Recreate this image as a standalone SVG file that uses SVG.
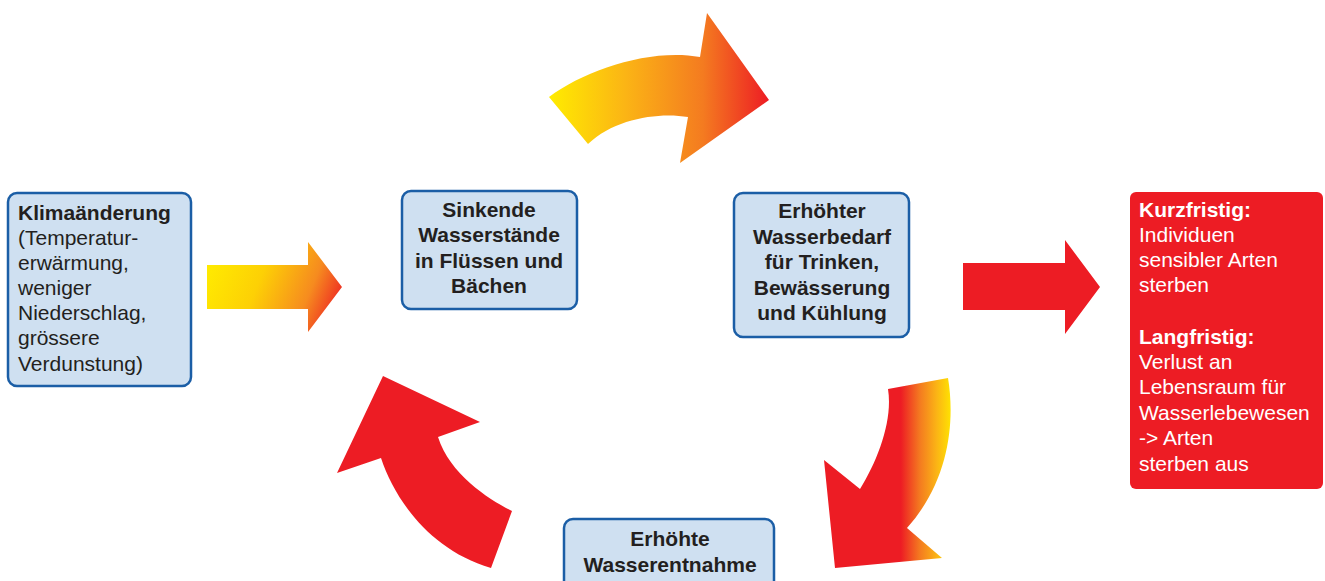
<svg xmlns="http://www.w3.org/2000/svg" width="1325" height="581" viewBox="0 0 1325 581">
<defs>
<style>
.box{fill:#cfe0f1;stroke:#1b5ea6;stroke-width:2.5}
.t{font-family:"Liberation Sans",Arial,sans-serif;font-size:21px;fill:#231f20}
.b{font-weight:bold}
.c{text-anchor:middle}
.w{fill:#ffffff}
.red{fill:#ed1c24}
</style>
<linearGradient id="gStraight" gradientUnits="userSpaceOnUse" x1="207" y1="255" x2="342" y2="310">
<stop offset="0" stop-color="#ffed00"/>
<stop offset="0.4" stop-color="#fdd005"/>
<stop offset="0.75" stop-color="#f68b1f"/>
<stop offset="1" stop-color="#ed1c24"/>
</linearGradient>
<linearGradient id="gTop" gradientUnits="userSpaceOnUse" x1="549" y1="0" x2="769" y2="0">
<stop offset="0" stop-color="#ffec00"/>
<stop offset="0.35" stop-color="#fbb415"/>
<stop offset="0.7" stop-color="#f47b20"/>
<stop offset="1" stop-color="#ed1c24"/>
</linearGradient>
<linearGradient id="gRight" gradientUnits="userSpaceOnUse" x1="824" y1="0" x2="952" y2="0">
<stop offset="0" stop-color="#ed1c24"/>
<stop offset="0.6" stop-color="#ed1c24"/>
<stop offset="0.75" stop-color="#f47b20"/>
<stop offset="0.88" stop-color="#fbb415"/>
<stop offset="1" stop-color="#ffe600"/>
</linearGradient>
</defs>
<rect width="1325" height="581" fill="#ffffff"/>
<g id="connectors">
<polygon id="arrow-klima" points="207,265 308,265 308,242 342,287 308,332 308,309 207,309" fill="url(#gStraight)"/>
<path id="arrow-top" d="M549,97 C585,70 650,48 700,57 L707,13 L769,100 L680,163 L688,117 C660,112 615,118 588,144 Z" fill="url(#gTop)"/>
<polygon id="arrow-effect" class="red" points="963,263 1065,263 1065,240 1100,287 1065,334 1065,310 963,310"/>
<path id="arrow-right" d="M888,389 L948,378 C955,420 950,480 907,528 L942,558 L835,568 L824,460 L860,489 C878,460 893,420 888,389 Z" fill="url(#gRight)"/>
<path id="arrow-left" class="red" d="M491,568 L512,511 C490,500 450,475 438,437 L480,422 L383,376 L337,473 L381,458 C395,500 430,550 491,568 Z"/>
</g>
<g id="node-klima">
<rect class="box" x="8" y="193" width="183" height="193" rx="9"/>
<text class="t" x="18"><tspan class="b" x="18" y="220">Klimaänderung</tspan><tspan x="18" y="245">(Temperatur-</tspan><tspan x="18" y="270">erwärmung,</tspan><tspan x="18" y="295">weniger</tspan><tspan x="18" y="320">Niederschlag,</tspan><tspan x="18" y="345">grössere</tspan><tspan x="18" y="371">Verdunstung)</tspan></text>
</g>
<g id="node-sinkende">
<rect class="box" x="402" y="191" width="175" height="118" rx="9"/>
<text class="t b c"><tspan x="489" y="217">Sinkende</tspan><tspan x="489" y="242">Wasserstände</tspan><tspan x="489" y="268">in Flüssen und</tspan><tspan x="489" y="293">Bächen</tspan></text>
</g>
<g id="node-bedarf">
<rect class="box" x="734" y="193" width="175" height="144" rx="9"/>
<text class="t b c"><tspan x="822" y="218">Erhöhter</tspan><tspan x="822" y="244">Wasserbedarf</tspan><tspan x="822" y="269">für Trinken,</tspan><tspan x="822" y="295">Bewässerung</tspan><tspan x="822" y="320">und Kühlung</tspan></text>
</g>
<g id="node-entnahme">
<rect class="box" x="564" y="519" width="210" height="90" rx="9"/>
<text class="t b c"><tspan x="670" y="546">Erhöhte</tspan><tspan x="670" y="572">Wasserentnahme</tspan></text>
</g>
<g id="node-folgen">
<rect class="red" x="1130" y="192" width="193" height="297" rx="6"/>
<text class="t w"><tspan class="b" x="1139" y="217">Kurzfristig:</tspan><tspan x="1139" y="242">Individuen</tspan><tspan x="1139" y="267">sensibler Arten</tspan><tspan x="1139" y="292">sterben</tspan><tspan class="b" x="1139" y="344">Langfristig:</tspan><tspan x="1139" y="369">Verlust an</tspan><tspan x="1139" y="394">Lebensraum für</tspan><tspan x="1139" y="420">Wasserlebewesen</tspan><tspan x="1139" y="445">-&gt; Arten</tspan><tspan x="1139" y="471">sterben aus</tspan></text>
</g>
</svg>
